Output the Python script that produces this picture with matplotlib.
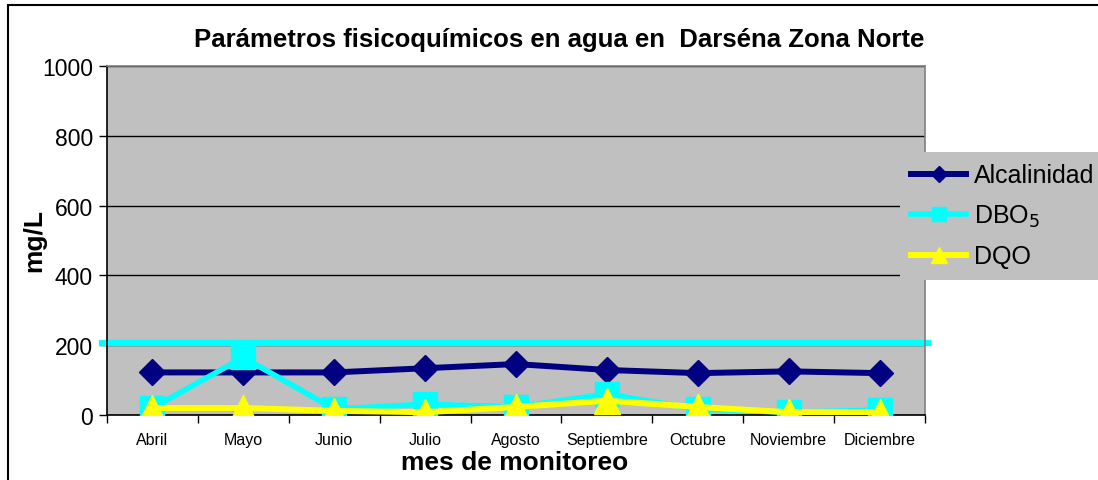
import matplotlib
matplotlib.use("Agg")
import matplotlib.pyplot as plt
from matplotlib.patches import Rectangle

plt.rcParams["font.family"] = ["Liberation Sans", "DejaVu Sans"]

meses = ["Abril", "Mayo", "Junio", "Julio", "Agosto", "Septiembre",
         "Octubre", "Noviembre", "Diciembre"]
alcalinidad = [122, 122, 122, 134, 146, 129, 120, 125, 120]
dbo5 = [20, 165, 17, 31, 23, 60, 17, 8, 14]
dqo = [20, 20, 12, 8, 23, 41, 23, 8, 8]
limite = 205  # horizontal cyan reference line

fig = plt.figure(figsize=(10.98, 4.81), dpi=100)
ax = fig.add_axes([107 / 1098, 1 - 416 / 481, (925 - 107) / 1098, (416 - 67) / 481])
ax.set_facecolor("#C0C0C0")

x = range(len(meses))
ax.plot(x, alcalinidad, color="#000080", lw=4.3, marker="D", ms=13.5,
        label="Alcalinidad", zorder=3)
ax.plot(x, dbo5, color="#00FFFF", lw=4, marker="s", ms=17,
        label="DBO$_5$", zorder=4)
ax.plot(x, dqo, color="#FFFF00", lw=4.3, marker="^", ms=19,
        label="DQO", zorder=5)

ax.set_xlim(-0.5, len(meses) - 0.5)
ax.set_ylim(0, 1000)
x0, x1 = ax.get_xlim()
ax.plot([x0 - 0.06, x1 + 0.03], [limite, limite], color="#00FFFF", lw=4.5,
        clip_on=False, zorder=2)

ax.set_yticks(range(0, 1001, 200))
ax.yaxis.grid(True, color="black", lw=1)
ax.set_axisbelow(True)
ax.tick_params(axis="y", labelsize=16.5, length=6, width=1, direction="out", pad=4)

ax.set_xticks([i + 0.5 for i in range(-1, len(meses))])
ax.set_xticklabels([])
ax.tick_params(axis="x", length=6, width=1, direction="out")
ax.set_xticks(list(x), minor=True)
ax.set_xticklabels(meses, minor=True, fontsize=11.5)
ax.tick_params(axis="x", which="minor", length=0, pad=12)

for s in ("left", "bottom"):
    ax.spines[s].set_color("black")
    ax.spines[s].set_linewidth(1.2)
for s in ("top", "right"):
    ax.spines[s].set_color("#808080")
    ax.spines[s].set_linewidth(1.2)

fig.text(515 / 1098, 1 - 463 / 481, "mes de monitoreo", fontsize=19,
         fontweight="bold", ha="center", va="center")
fig.text(34 / 1098, 1 - 240 / 481, "mg/L", rotation=90, fontsize=19,
         fontweight="bold", ha="center", va="center")
fig.text(0.509, 1 - 40 / 481,
         "Parámetros fisicoquímicos en agua en  Darséna Zona Norte",
         fontsize=18.5, fontweight="bold", ha="center", va="center")

leg = fig.legend(loc="upper left", bbox_to_anchor=(900 / 1098, 1 - 153 / 481),
                 frameon=True, fancybox=False, fontsize=18, handlelength=2.2,
                 handletextpad=0.3, labelspacing=0.62, borderpad=0.45,
                 borderaxespad=0, markerscale=0.6)
leg.get_frame().set_facecolor("#C0C0C0")
leg.get_frame().set_edgecolor("none")
leg.get_frame().set_alpha(1)

fig.patches.append(Rectangle((8 / 1098, -0.05), 1.1, 1 - 6 / 481 + 0.05,
                             transform=fig.transFigure, fill=False,
                             edgecolor="black", lw=1.5))

fig.savefig("out.png", dpi=100)
